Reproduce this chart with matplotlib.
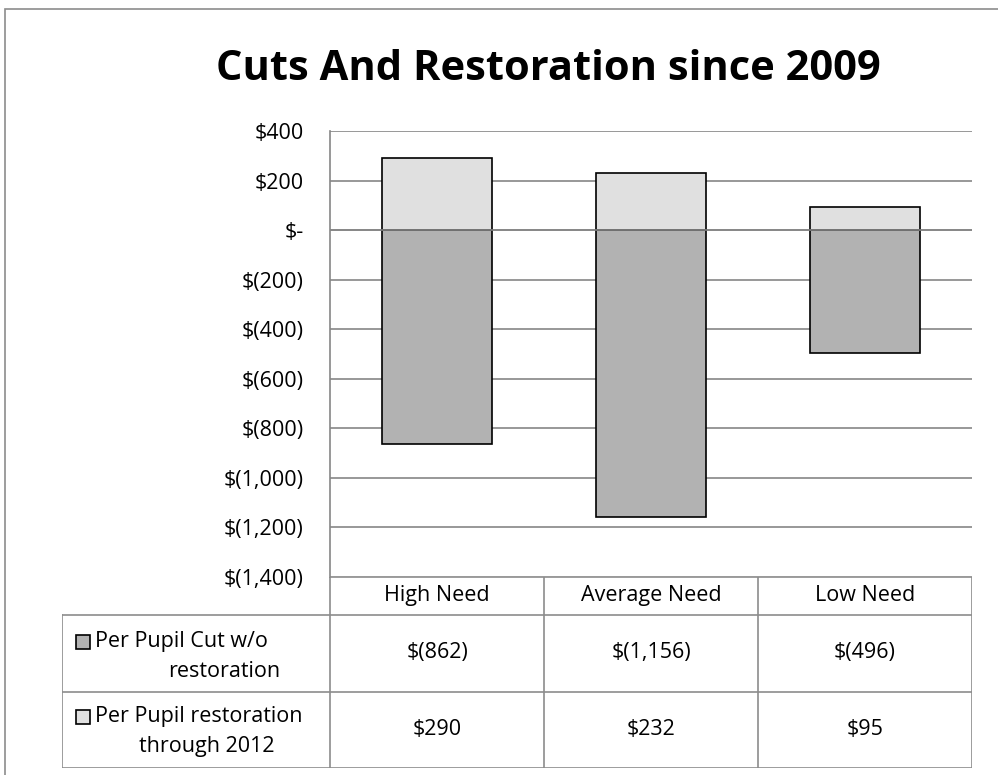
import matplotlib.pyplot as plt
from matplotlib.patches import Rectangle

plt.rcParams['font.family'] = ['Open Sans', 'DejaVu Sans']

categories = ['High Need', 'Average Need', 'Low Need']
cut = [-862, -1156, -496]
restoration = [290, 232, 95]
cut_labels = ['$(862)', '$(1,156)', '$(496)']
rest_labels = ['$290', '$232', '$95']
yticks = [400, 200, 0, -200, -400, -600, -800, -1000, -1200, -1400]
ytick_labels = ['$400', '$200', '$-', '$(200)', '$(400)', '$(600)', '$(800)',
                '$(1,000)', '$(1,200)', '$(1,400)']

W, H = 998, 775
fig = plt.figure(figsize=(W / 100, H / 100), dpi=100)

def fx(px): return px / W
def fy(py): return 1 - py / H

# outer chart border
fig.patches.append(Rectangle((fx(5), fy(790)), fx(1010) - fx(5), fy(9) - fy(790),
                             transform=fig.transFigure, fill=False,
                             edgecolor='#8c8c8c', lw=1.2))

fig.text(fx(548), fy(69), 'Cuts And Restoration since 2009', ha='center', va='center',
         fontsize=30, fontweight='bold')

left, right, top, bottom = 330, 972, 131, 577
ax = fig.add_axes([fx(left), fy(bottom), fx(right) - fx(left), fy(top) - fy(bottom)])
x = range(len(categories))
ax.bar(x, cut, width=0.51, color='#b2b2b2', edgecolor='black', lw=1.2, zorder=3)
ax.bar(x, restoration, width=0.51, color='#e0e0e0', edgecolor='black', lw=1.2, zorder=3)
ax.set_xlim(-0.5, 2.5)
ax.set_ylim(-1400, 400)
ax.set_yticks(yticks)
ax.set_yticklabels(ytick_labels, fontsize=15.5)
ax.set_xticks([])
ax.yaxis.grid(True, color='#868686', lw=1.2, zorder=0)
ax.axhline(0, color='#868686', lw=1.2, zorder=4)
for s in ['top', 'right', 'bottom']:
    ax.spines[s].set_visible(False)
ax.spines['left'].set_color('#868686')
ax.spines['left'].set_linewidth(1.2)
ax.tick_params(axis='y', length=0, pad=19)

# data table
tab = fig.add_axes([fx(62), fy(768), fx(972) - fx(62), fy(577) - fy(768)])
tab.set_xlim(62, 972)
tab.set_ylim(768, 577)
tab.axis('off')
lc = '#8c8c8c'
cols = [330, 544, 758, 972]
rows = [577, 615, 692, 768]
tab.plot([330, 972], [577, 577], color=lc, lw=1.2)
for r in rows[1:]:
    tab.plot([62, 972], [r, r], color=lc, lw=1.2)
tab.plot([62, 62], [615, 768], color=lc, lw=1.2)
for c in cols:
    tab.plot([c, c], [577, 768], color=lc, lw=1.2)

fs = 15.5
for i, cat in enumerate(categories):
    cx = (cols[i] + cols[i + 1]) / 2
    tab.text(cx, 596, cat, ha='center', va='center', fontsize=fs)
    tab.text(cx, 653, cut_labels[i], ha='center', va='center', fontsize=fs)
    tab.text(cx, 730, rest_labels[i], ha='center', va='center', fontsize=fs)

legend_rows = [(642, 672, 224, '#b2b2b2', 'Per Pupil Cut w/o', 'restoration'),
               (717, 747, 207, '#e0e0e0', 'Per Pupil restoration', 'through 2012')]
for y1, y2, x2, col, l1, l2 in legend_rows:
    tab.add_patch(Rectangle((76, y1 - 7), 14, 14, facecolor=col, edgecolor='black', lw=1.2))
    tab.text(95, y1, l1, ha='left', va='center', fontsize=fs)
    tab.text(x2, y2, l2, ha='center', va='center', fontsize=fs)

fig.savefig('out.png', dpi=100)
